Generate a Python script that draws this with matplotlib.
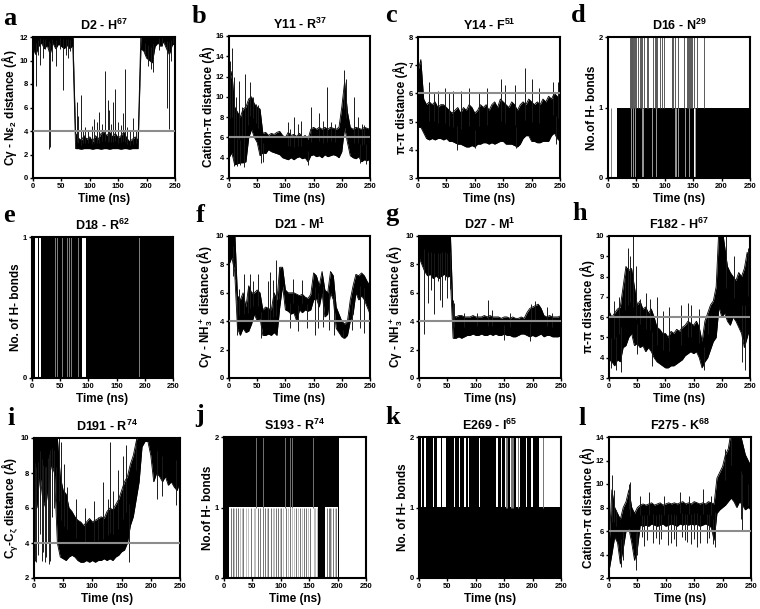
import numpy as np
import matplotlib
matplotlib.use('Agg')
import matplotlib.pyplot as plt

plt.rcParams['font.family'] = ['Liberation Sans', 'DejaVu Sans']
plt.rcParams['font.weight'] = 'bold'
plt.rcParams['axes.labelweight'] = 'bold'
plt.rcParams['axes.titleweight'] = 'bold'
plt.rcParams['mathtext.fontset'] = 'custom'
plt.rcParams['mathtext.rm'] = 'Liberation Sans:bold'
plt.rcParams['mathtext.it'] = 'Liberation Sans:bold'
plt.rcParams['mathtext.bf'] = 'Liberation Sans:bold'
plt.rcParams['mathtext.default'] = 'rm'

# sample times (ns) for the envelope of each distance trace
t = np.arange(0, 251, 5)

# a : D2 - H67
a_lo = [11.0, 10.5, 11.2, 11.5, 11.0, 11.3, 10.5, 11.5, 11.0, 11.4,
        11.2, 11.0, 11.3, 11.0, 11.3, 2.5, 2.5, 2.45, 2.5, 2.5,
        2.5, 2.45, 2.5, 2.5, 2.45, 2.5, 2.5, 2.45, 2.5, 2.5,
        2.5, 2.45, 2.5, 2.5, 2.45, 2.5, 2.5, 2.5, 11.0, 10.8,
        10.2, 10.0, 9.8, 11.2, 11.5, 11.2, 11.6, 11.0, 10.5, 11.3, 11.5]
a_hi = [12.5, 12.5, 12.5, 12.5, 12.5, 12.5, 12.5, 12.5, 12.5, 12.5,
        12.5, 12.5, 12.5, 12.5, 12.5, 3.8, 3.4, 3.2, 3.6, 3.3,
        3.5, 3.1, 3.6, 3.3, 3.8, 3.9, 3.6, 3.9, 3.5, 3.8,
        3.4, 3.6, 3.9, 3.4, 3.1, 3.3, 3.5, 3.2, 12.5, 12.5,
        12.5, 12.5, 12.5, 12.5, 12.5, 12.5, 12.5, 12.5, 12.5, 12.5, 12.5]
a_spk_t = [5, 8, 12, 18, 22, 28, 29, 30, 33, 40, 47, 53, 58, 62, 66, 70, 77, 80, 84, 88,
           92, 97, 103, 108, 112, 117, 121, 127, 132, 134, 138, 141, 145, 150, 155, 158,
           162, 166, 170, 176, 182, 197, 203, 208, 212, 222, 227, 236, 239, 243, 247]
a_spk_v = [7.8, 10.5, 9.6, 10.2, 11.0, 2.5, 4.5, 2.6, 10.0, 9.5, 11.0, 7.5, 10.5, 10.2, 10.8,
           10.5, 6.5, 5.3, 7.1, 4.0, 4.3, 4.1, 4.4, 5.0, 4.8, 5.6, 4.6, 9.1, 6.6, 5.8, 4.6,
           6.5, 7.6, 4.8, 4.5, 5.5, 9.3, 4.3, 4.0, 5.1, 4.0, 10.5, 9.5, 9.3, 9.0, 10.9, 11.2,
           6.0, 4.2, 10.0, 11.5]

# b : Y11 - R37
b_lo = [4.0, 4.5, 3.3, 3.4, 3.5, 3.5, 3.6, 6.0, 6.8, 6.0,
        5.5, 4.2, 4.5, 4.4, 4.8, 4.6, 4.5, 4.4, 4.3, 4.0,
        3.9, 3.8, 4.0, 3.8, 4.0, 4.1, 3.9, 4.0, 3.6, 4.2,
        4.3, 4.1, 4.2, 4.0, 4.3, 4.1, 4.2, 4.3, 4.2, 4.0,
        4.6, 7.0, 5.5, 4.2, 4.0, 3.9, 4.1, 3.6, 3.8, 3.7, 3.9]
b_hi = [11.0, 12.5, 9.0, 8.5, 8.0, 8.8, 9.0, 9.8, 10.0, 9.3,
        9.0, 8.8, 6.4, 6.5, 6.2, 6.4, 6.3, 6.5, 6.6, 6.2,
        6.0, 6.5, 6.2, 6.3, 6.1, 6.4, 6.0, 6.2, 5.8, 6.8,
        7.0, 6.8, 7.0, 6.8, 7.0, 6.8, 7.0, 6.9, 6.8, 7.0,
        9.0, 11.5, 8.5, 7.0, 6.8, 7.0, 6.9, 6.8, 7.0, 6.9, 6.8]
b_spk_t = [2, 6, 9, 13, 17, 23, 28, 33, 37, 43, 48, 52, 8, 14, 19, 26, 57, 60, 105, 108,
           116, 122, 127, 140, 146, 160, 166, 173, 180, 188, 204, 208, 222, 228, 233, 236, 240, 243]
b_spk_v = [13.5, 14.8, 12.0, 10.0, 11.6, 9.0, 12.3, 9.5, 11.5, 10.0, 9.3, 9.2, 3.2, 3.2, 3.3,
           3.1, 3.5, 3.6, 7.5, 6.8, 8.0, 7.3, 7.6, 3.3, 9.0, 8.4, 7.6, 11.0, 7.5, 7.3, 12.6,
           11.8, 10.0, 8.0, 3.5, 7.3, 7.2, 3.4]

# c : Y14 - F51
c_lo = [4.8, 4.8, 4.6, 4.4, 4.35, 4.4, 4.35, 4.4, 4.4, 4.35,
        4.4, 4.3, 4.3, 4.25, 4.2, 4.2, 4.15, 4.1, 4.1, 4.15,
        4.1, 4.2, 4.2, 4.25, 4.25, 4.2, 4.25, 4.2, 4.25, 4.3,
        4.3, 4.2, 4.2, 4.2, 4.15, 4.1, 4.2, 4.4, 4.5, 4.5,
        4.3, 4.3, 4.25, 4.25, 4.3, 4.3, 4.3, 4.5, 4.6, 4.4, 4.3]
c_hi = [6.8, 7.2, 5.8, 5.6, 5.7, 5.6, 5.7, 5.5, 5.6, 5.6,
        5.5, 5.4, 5.3, 5.4, 5.5, 5.3, 5.5, 5.4, 5.6, 5.5,
        5.3, 5.4, 5.6, 5.5, 5.6, 5.4, 5.6, 5.7, 5.5, 5.8,
        5.7, 5.6, 5.5, 5.7, 5.6, 5.4, 5.6, 5.7, 5.6, 5.8,
        5.7, 5.6, 5.7, 5.6, 5.8, 5.7, 5.9, 5.8, 6.0, 5.9, 5.8]
c_spk_t = [20, 28, 35, 47, 55, 62, 75, 90, 107, 122, 147, 153, 170, 188, 200, 213, 238, 247,
           68, 100, 172, 243]
c_spk_v = [6.4, 6.0, 6.1, 6.2, 6.0, 6.1, 6.1, 6.2, 6.0, 6.2, 6.5, 6.3, 6.3, 6.9, 6.5, 6.2,
           6.4, 6.4, 4.0, 4.05, 4.05, 4.2]

# f : D21 - M1
f_lo = [8.0, 8.5, 7.5, 3.5, 3.0, 3.5, 3.2, 3.3, 3.8, 4.5,
        4.0, 4.2, 3.0, 3.0, 3.1, 3.0, 3.2, 3.0, 5.0, 6.5,
        4.8, 4.7, 4.5, 4.6, 4.0, 4.8, 4.6, 4.8, 4.7, 4.8,
        5.5, 5.6, 5.0, 6.0, 4.3, 4.5, 6.0, 5.5, 3.5, 3.2,
        2.9, 2.8, 3.0, 4.0, 4.5, 6.0, 5.5, 5.8, 5.5, 5.0, 4.5]
f_hi = [10.5, 10.5, 10.5, 5.8, 5.5, 6.0, 5.0, 6.5, 6.0, 6.0,
        6.2, 6.0, 4.8, 5.0, 4.9, 4.8, 6.0, 5.5, 7.8, 7.8,
        6.2, 6.0, 6.0, 6.0, 5.9, 5.8, 5.9, 5.7, 5.6, 5.9,
        7.4, 7.2, 6.5, 7.5, 6.2, 6.0, 7.5, 7.2, 5.0, 4.5,
        4.0, 3.8, 4.0, 5.5, 6.5, 7.3, 7.2, 7.4, 7.2, 6.8, 6.5]
f_spk_t = [7, 11, 14, 18, 27, 33, 38, 42, 52, 57, 69, 73, 78, 83, 88, 108, 113, 123, 129, 138,
           152, 158, 166, 178, 186, 203, 218, 232, 240, 248]
f_spk_v = [7.2, 7.0, 3.0, 6.3, 7.3, 6.5, 7.3, 6.8, 7.3, 2.8, 6.8, 7.5, 6.9, 8.3, 7.8, 3.5,
           7.0, 3.3, 6.9, 3.5, 3.0, 3.5, 3.6, 3.4, 3.0, 2.8, 3.4, 3.5, 3.2, 4.0]

# g : D27 - M1
g_lo = [8.5, 8.0, 7.5, 7.2, 7.3, 7.0, 7.2, 7.0, 7.2, 7.3,
        7.1, 7.2, 2.8, 2.8, 2.9, 2.8, 2.9, 3.0, 3.0, 3.1,
        3.0, 3.0, 3.1, 3.0, 3.0, 3.1, 3.0, 3.1, 3.0, 3.0,
        3.1, 3.0, 3.0, 2.9, 2.9, 3.0, 3.1, 3.1, 3.0, 2.9,
        3.0, 2.9, 3.0, 3.1, 2.9, 3.0, 3.0, 2.9, 2.9, 2.9, 3.0]
g_hi = [10.5, 10.5, 10.5, 10.5, 10.5, 10.5, 10.5, 10.5, 10.5, 10.5,
        10.5, 10.5, 4.4, 4.3, 4.4, 4.4, 4.3, 4.3, 4.3, 4.4,
        4.3, 4.3, 4.3, 4.4, 4.3, 4.4, 4.3, 4.3, 4.3, 4.2,
        4.3, 4.3, 4.2, 4.3, 4.2, 4.2, 4.3, 4.2, 4.6, 4.9,
        5.0, 5.1, 5.2, 4.9, 4.4, 4.3, 4.4, 4.3, 4.3, 4.3, 4.4]
g_spk_t = [9, 16, 22, 27, 33, 37, 41, 45, 49, 54, 60, 62, 80, 102, 122, 128, 160, 198, 205,
           225, 235, 150, 195]
g_spk_v = [3.1, 5.3, 6.2, 4.5, 6.8, 5.5, 5.0, 6.9, 5.6, 6.3, 5.5, 5.3, 4.6, 4.6, 5.5, 4.8,
           4.6, 5.2, 5.4, 5.0, 4.6, 2.7, 2.6]

# h : F182 - H67
h_lo = [3.9, 3.8, 3.6, 3.9, 3.8, 4.5, 4.6, 5.0, 5.2, 4.6,
        4.7, 4.5, 4.6, 4.3, 4.5, 4.3, 4.0, 3.8, 3.7, 3.6,
        3.5, 3.5, 3.6, 3.6, 3.7, 3.8, 3.9, 4.1, 4.2, 4.3,
        4.2, 4.3, 4.0, 3.5, 3.8, 4.0, 4.4, 4.8, 5.0, 6.5,
        6.0, 6.2, 5.8, 5.6, 6.0, 5.8, 5.5, 5.2, 4.5, 5.0, 5.5]
h_hi = [6.3, 6.0, 6.2, 6.4, 6.5, 7.5, 8.5, 8.3, 8.4, 7.5,
        6.6, 6.8, 6.4, 6.5, 6.2, 6.4, 6.0, 5.5, 5.4, 5.2,
        5.2, 5.0, 5.3, 5.2, 5.4, 5.3, 5.5, 5.6, 5.8, 5.7,
        5.6, 5.8, 5.5, 4.8, 5.8, 6.2, 6.6, 6.8, 7.5, 10.5,
        10.5, 9.5, 8.5, 8.2, 8.0, 7.8, 8.2, 8.0, 8.4, 9.2, 8.5]
h_spk_t = [3, 8, 12, 17, 22, 28, 33, 38, 42, 47, 50, 55, 65, 73, 76, 85, 95, 107, 128, 140,
           145, 160, 168, 176, 208, 222, 235, 241, 247]
h_spk_v = [3.5, 6.8, 3.4, 7.0, 3.3, 8.0, 9.4, 9.0, 10.0, 8.5, 4.2, 6.9, 7.2, 6.9, 3.6, 7.0,
           6.3, 6.5, 6.6, 6.7, 6.6, 6.4, 3.4, 6.2, 10.0, 9.0, 3.8, 3.4, 9.4]

# i : D191 - R74
i_lo = [7.0, 6.0, 8.0, 6.5, 6.0, 7.5, 8.5, 8.0, 4.0, 3.2,
        3.1, 3.0, 3.2, 3.3, 3.2, 3.0, 2.9, 2.9, 3.0, 2.9,
        3.0, 2.9, 3.0, 3.0, 3.1, 3.0, 3.1, 3.0, 3.2, 3.3,
        3.5, 3.6, 4.0, 5.0, 5.5, 6.5, 7.5, 9.5, 9.8, 9.8,
        9.0, 7.5, 8.0, 7.8, 7.5, 7.8, 7.3, 7.5, 7.2, 7.0, 7.5]
i_hi = [10.5, 10.5, 10.5, 10.5, 10.5, 10.5, 10.5, 10.5, 10.0, 7.8,
        7.0, 6.8, 6.0, 5.8, 5.5, 5.3, 5.2, 5.0, 5.2, 5.4,
        5.2, 5.3, 5.4, 5.5, 5.4, 5.8, 6.0, 5.9, 6.2, 6.5,
        7.0, 7.5, 7.8, 8.5, 9.0, 9.8, 10.5, 10.5, 10.5, 10.5,
        10.5, 10.5, 10.5, 10.5, 10.5, 10.5, 10.5, 10.5, 10.5, 10.5, 10.5]
i_spk_t = [2, 4, 7, 10, 13, 16, 18, 21, 24, 26, 28, 31, 34, 37, 42, 47, 52, 57, 72, 88,
           103, 110, 118, 126, 130, 136, 143, 152, 158, 162, 175, 210, 220, 244]
i_spk_v = [3.0, 2.9, 3.3, 4.5, 3.0, 3.5, 2.9, 3.2, 4.0, 2.8, 3.0, 5.5, 6.0, 6.5, 10.0, 9.8,
           8.5, 7.2, 6.5, 6.0, 6.4, 5.5, 7.5, 6.5, 9.8, 7.0, 8.2, 9.0, 9.6, 2.9, 10.0, 6.5,
           6.7, 6.2]

# l : F275 - K68
l_lo = [2.6, 4.0, 5.5, 5.0, 3.2, 4.5, 6.0, 6.2, 5.0, 3.5,
        4.5, 6.5, 6.4, 6.5, 6.4, 6.6, 6.5, 6.4, 6.5, 6.6,
        6.4, 6.5, 6.6, 6.5, 6.4, 6.6, 6.5, 6.6, 6.5, 6.6,
        6.5, 6.6, 6.4, 6.5, 6.6, 6.5, 6.3, 5.2, 7.5, 7.8,
        8.0, 8.2, 8.5, 8.8, 8.5, 8.0, 8.5, 8.2, 7.8, 8.0, 7.8]
l_hi = [4.5, 9.5, 8.0, 7.5, 7.0, 8.0, 8.5, 9.5, 8.0, 7.5,
        8.0, 8.2, 8.3, 8.2, 8.3, 8.4, 8.2, 8.3, 8.4, 8.2,
        8.3, 8.4, 8.3, 8.4, 8.3, 8.4, 8.5, 8.3, 8.4, 8.3,
        8.5, 8.4, 8.3, 8.4, 8.3, 8.5, 8.4, 8.3, 10.5, 11.0,
        11.5, 12.5, 13.0, 14.5, 14.5, 14.5, 14.5, 13.5, 12.5, 12.0, 11.5]
l_spk_t = [5, 8, 13, 21, 24, 35, 37, 47, 49, 55, 62, 70, 78, 88, 97, 103, 110, 118, 125, 133,
           140, 145, 155, 165, 172, 180, 187, 205, 215, 233, 235, 245,
           58, 67, 82, 92, 114, 128, 137, 150, 160, 176, 183]
l_spk_v = [10.8, 9.5, 7.8, 2.9, 3.5, 10.0, 10.2, 2.7, 4.0, 9.0, 4.7, 9.3, 5.0, 4.9, 9.0, 4.8,
           5.0, 4.7, 9.3, 5.2, 9.0, 4.9, 4.6, 9.6, 5.0, 9.0, 4.6, 13.0, 14.5, 7.0, 6.0, 8.2,
           5.5, 5.2, 5.4, 5.3, 5.3, 5.5, 5.1, 5.3, 5.0, 5.4, 4.9]

# H-bond panels: dense switching blocks (t0, t1, n0, n1) and single flips
d_blocks = [(16, 250, 0, 1)]
d_up = [39, 40, 41, 42, 43, 44, 45, 48, 50, 52, 57, 58, 60, 64, 68, 71, 80, 82, 84, 85, 87,
        91, 95, 99, 112, 113, 115, 118, 124, 134, 139, 140, 142, 145, 146, 148, 152, 156, 169]
d_light = [40, 44, 48, 60, 62, 77, 84, 118, 120, 124, 136, 142, 153]

e_blocks = [(0, 6, 0, 1), (10, 13, 0, 1), (16, 89, 0, 1), (96, 250, 0, 1)]
e_light = [41, 45, 53, 62, 66, 70, 81, 189]

j_blocks = [(0, 202, 1, 2), (0, 9, 0, 1), (166, 178, 0, 1), (201, 202, 0, 2)]
j_up_light = [57, 68, 107, 116, 119, 156]
j_down = [13, 16, 22, 25, 34, 48, 60, 63, 68, 72, 78, 82, 92, 95, 101, 110, 116, 126, 134,
          141, 145, 151, 182, 184, 186, 192, 198]
j_down_light = [18, 28, 31, 38, 42, 52, 55, 75, 86, 88, 98, 104, 113, 120, 123, 130, 138,
                148, 158, 161, 163, 188, 195]

k_blocks = [(0, 250, 0, 1), (0, 3, 1, 2), (6, 9, 1, 2), (12, 24, 1, 2), (26, 32, 1, 2),
            (38, 41, 1, 2), (47, 61, 1, 2), (63, 70, 1, 2), (72, 79, 1, 2), (82, 87, 1, 2),
            (88, 106, 1, 2), (107, 114, 1, 2), (115, 130, 1, 2), (131, 136, 1, 2),
            (139, 144, 1, 2), (147, 151, 1, 2), (157, 160, 1, 2), (168, 171, 1, 2),
            (177, 189, 1, 2), (190, 198, 1, 2), (201, 212, 1, 2)]
k_up = [153, 155, 162, 164, 166, 174, 218]


def trace(ax, lo, hi, spk_t, spk_v, ref):
    lo = np.array(lo)
    hi = np.array(hi)
    ax.fill_between(t, lo, hi, color='k', lw=0)
    ax.plot(t, lo, color='k', lw=0.6)
    ax.plot(t, hi, color='k', lw=0.6)
    base = np.interp(spk_t, t, (lo + hi) / 2)
    ax.vlines(spk_t, base, spk_v, color='0.1', lw=0.7)
    ax.axhline(ref, color='0.55', lw=1.5, zorder=5)


def hbond(ax, blocks, lines):
    for x0, x1, y0, y1 in blocks:
        ax.fill_between([x0, x1], y0, y1, color='k', lw=0)
    for times, y0, y1, c in lines:
        ax.vlines(times, y0, y1, color=c, lw=0.7)


def frame(ax, title, ylabel, ylim, yticks):
    ax.set_xlim(0, 250)
    ax.set_ylim(*ylim)
    ax.set_xticks([0, 50, 100, 150, 200, 250])
    ax.set_yticks(yticks)
    ax.tick_params(labelsize=5.5, width=1, length=2.5, pad=1)
    for s in ax.spines.values():
        s.set_linewidth(1.5)
    ax.set_title(title, fontsize=9, pad=5)
    ax.set_xlabel('Time (ns)', fontsize=8.5, labelpad=2)
    ax.set_ylabel(ylabel, fontsize=8.5, labelpad=0.5)


W, H = 760, 609
fig = plt.figure(figsize=(W / 100, H / 100), dpi=100)


def box(l, tp, r, b):
    return fig.add_axes([l / W, 1 - b / H, (r - l) / W, (b - tp) / H])


def letter(x, y, s):
    fig.text(x / W, 1 - y / H, s, family='Liberation Serif', fontsize=19,
             fontweight='bold', ha='left', va='baseline')


ax = box(33, 37, 175, 178)
trace(ax, a_lo, a_hi, a_spk_t, a_spk_v, 4)
frame(ax, 'D2 - H$^{67}$', 'Cγ - Nε$_2$ distance (Å)', (0, 12), range(0, 13, 2))
letter(3, 25, 'a')

ax = box(229, 36, 370, 178)
trace(ax, b_lo, b_hi, b_spk_t, b_spk_v, 6)
frame(ax, 'Y11 - R$^{37}$', 'Cation-π distance (Å)', (2, 16), range(2, 17, 2))
letter(192, 23, 'b')

ax = box(418, 37, 560, 178)
trace(ax, c_lo, c_hi, c_spk_t, c_spk_v, 6)
frame(ax, 'Y14 - F$^{51}$', 'π-π distance (Å)', (3, 8), range(3, 9))
letter(385, 22, 'c')

ax = box(608, 37, 750, 178)
hbond(ax, d_blocks, [([5], 0, 1, '0.5'), (d_up, 1, 2, '0.35'), (d_light, 0, 1, '0.6'),
                     ([152], 0, 1, 'w')])
frame(ax, 'D16 - N$^{29}$', 'No.of H- bonds', (0, 2), [0, 1, 2])
letter(571, 22, 'd')

ax = box(32, 237, 173, 378)
hbond(ax, e_blocks, [(e_light, 0, 1, '0.5')])
frame(ax, 'D18 - R$^{62}$', 'No. of H- bonds', (0, 1), [0, 1])
letter(3, 222, 'e')

ax = box(229, 236, 370, 378)
trace(ax, f_lo, f_hi, f_spk_t, f_spk_v, 4)
frame(ax, 'D21 - M$^{1}$', 'Cγ - NH$_3^+$ distance (Å)', (0, 10), range(0, 11, 2))
letter(196, 222, 'f')

ax = box(419, 236, 561, 378)
trace(ax, g_lo, g_hi, g_spk_t, g_spk_v, 4)
frame(ax, 'D27 - M$^{1}$', 'Cγ - NH$_3^+$ distance (Å)', (0, 10), range(0, 11, 2))
letter(385, 221, 'g')

ax = box(609, 236, 750, 378)
trace(ax, h_lo, h_hi, h_spk_t, h_spk_v, 6)
frame(ax, 'F182 - H$^{67}$', 'π-π distance (Å)', (3, 10), range(3, 11))
letter(572, 220, 'h')

ax = box(34, 438, 180, 578)
trace(ax, i_lo, i_hi, i_spk_t, i_spk_v, 4)
frame(ax, 'D191 - R$^{74}$', 'C$_γ$-C$_ζ$ distance (Å)', (2, 10), range(2, 11, 2))
letter(7, 425, 'i')

ax = box(224, 437, 366, 578)
hbond(ax, j_blocks, [(j_up_light, 1, 2, '0.45'), (j_down, 0, 1, '0.45'),
                     (j_down_light, 0, 1, '0.75')])
frame(ax, 'S193 - R$^{74}$', 'No.of H- bonds', (0, 2), [0, 1, 2])
letter(195, 422, 'j')

ax = box(419, 437, 561, 578)
hbond(ax, k_blocks, [(k_up, 1, 2, '0.45')])
frame(ax, 'E269 - I$^{65}$', 'No. of H- bonds', (0, 2), [0, 1, 2])
letter(385, 424, 'k')

ax = box(609, 437, 751, 578)
trace(ax, l_lo, l_hi, l_spk_t, l_spk_v, 6)
frame(ax, 'F275 - K$^{68}$', 'Cation-π distance (Å)', (2, 14), range(2, 15, 2))
letter(578, 425, 'l')

fig.savefig('out.png', dpi=100)
